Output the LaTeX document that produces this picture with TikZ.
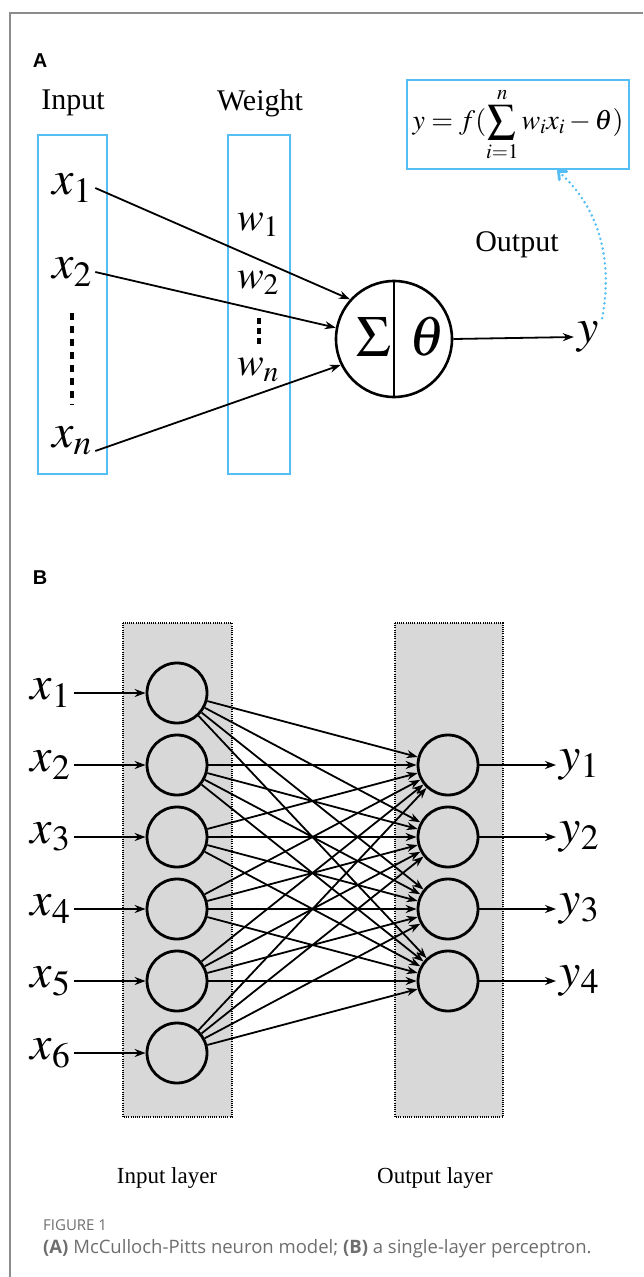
\documentclass[tikz,border=0pt]{standalone}
\usepackage{mathptmx}
\usepackage[no-math]{fontspec}
\setmainfont{Liberation Serif}
\setsansfont{Liberation Sans}
\newfontfamily\capfont{Open Sans}
\usetikzlibrary{arrows.meta,positioning}

\definecolor{boxblue}{RGB}{84,190,245}
\definecolor{framegray}{RGB}{140,140,140}
\definecolor{layergray}{RGB}{216,216,216}
\definecolor{captext}{RGB}{110,110,110}

\tikzset{
  bigmath/.style={font=\fontsize{48}{52}\selectfont},
  wmath/.style={font=\fontsize{40}{44}\selectfont},
  title/.style={font=\fontsize{30}{34}\selectfont},
  layertitle/.style={font=\fontsize{23}{26}\selectfont},
  panel/.style={font=\fontsize{20}{22}\selectfont\sffamily\bfseries},
  bluebox/.style={draw=boxblue,line width=2.5pt},
  unit/.style={draw,circle,line width=2.8pt,minimum size=60pt,inner sep=0pt},
  link/.style={-{Stealth[length=11pt,width=8pt]},line width=1.8pt},
  vdots/.style={line width=4pt,dash pattern=on 7pt off 6pt},
  bluedots/.style={draw=boxblue,line width=2.8pt,line cap=round,dash pattern=on 0pt off 5pt},
  layerbox/.style={fill=layergray,draw,line width=1.2pt,dash pattern=on 1pt off 1.2pt},
}

\begin{document}
\begin{tikzpicture}[x=1pt,y=-1pt]
\useasboundingbox (0,0) rectangle (643,1277);
% frame
\draw[framegray,line width=2pt] (643,13) -- (10,13) -- (10,1277);

% (A) McCulloch-Pitts neuron
\node[panel] (A) at (40,61) {A};
\node[title] (inlabel) at (73,103) {Input};
\node[title] (wlabel) at (260,103) {Weight};
\draw[bluebox] (38,135) rectangle (107,474);
\draw[bluebox] (228,135) rectangle (290,474);

\node[bigmath] (x1) at (72,188) {$x_1$};
\node[bigmath] (x2) at (72,272) {$x_2$};
\node[bigmath] (xn) at (72,441) {$x_n$};
\draw[vdots] (72,313) -- (72,405);

\node[wmath] (w1) at (258,225) {$w_1$};
\node[wmath] (w2) at (258,283) {$w_2$};
\node[wmath] (wn) at (258,370) {$w_n$};
\draw[vdots,dash pattern=on 6pt off 4pt] (259,318) -- (259,344);

\node[draw,circle,line width=2.6pt,minimum size=116pt] (neuron) at (394,339) {};
\draw[line width=2.2pt] (neuron.north) -- (neuron.south);
\node[font=\fontsize{58}{62}\selectfont] (sigma) at (374,337) {$\Sigma$};
\node[font=\fontsize{56}{60}\selectfont] (theta) at (427,337) {$\theta$};

\draw[link] (x1.east) -- (neuron.138);
\draw[link] (x2.east) -- (neuron.169);
\draw[link] ([yshift=-10pt]xn.east) -- (neuron.206);

\node[bigmath] (y) at (588,337) {$y$};
\draw[link] (neuron.east) -- (y.west);
\node[title] (outlabel) at (517,245) {Output};

\node[bluebox,minimum width=222pt,minimum height=89pt,inner sep=0pt,font=\fontsize{28}{30}\selectfont] (formula) at (518,124.5)
  {$\displaystyle y=f(\sum_{i=1}^{n}w_ix_i-\theta)$};
\draw[bluedots,-{Straight Barb[length=6pt,width=11pt,line cap=round]}] (y.north east) .. controls (614,255) and (596,205) .. ([xshift=39pt]formula.south);

% (B) single-layer perceptron
\node[panel] (B) at (40,578) {B};
\draw[layerbox] (123,623) rectangle (232,1117);
\draw[layerbox] (395,623) rectangle (503,1117);

\foreach \k in {1,...,6} {
  \node[unit] (i\k) at (177,{621+72*\k}) {};
  \node[bigmath,anchor=east] (x\k) at (74,{621+72*\k}) {$x_{\k}$};
  \draw[link] (x\k) -- (i\k);
}
\foreach \k in {1,...,4} {
  \node[unit] (o\k) at (448,{693+72*\k}) {};
  \node[bigmath,anchor=west] (y\k) at (556,{693+72*\k}) {$y_{\k}$};
  \draw[link] (o\k) -- (y\k);
}
\foreach \a in {1,...,6}
  \foreach \b in {1,...,4}
    \draw[link] (i\a) -- (o\b);

\node[layertitle] (inlayer) at (167,1178) {Input layer};
\node[layertitle] (outlayer) at (435,1178) {Output layer};

% caption
\node[anchor=base west,inner sep=0pt,text=captext,font=\capfont\fontsize{15}{17}\selectfont] (fig) at (43,1230) {FIGURE 1};
\node[anchor=base west,inner sep=0pt,text=captext,font=\capfont\fontsize{18.5}{21}\selectfont] (caption) at (43,1253)
  {\textbf{(A)} McCulloch-Pitts neuron model; \textbf{(B)} a single-layer perceptron.};
\end{tikzpicture}
\end{document}
